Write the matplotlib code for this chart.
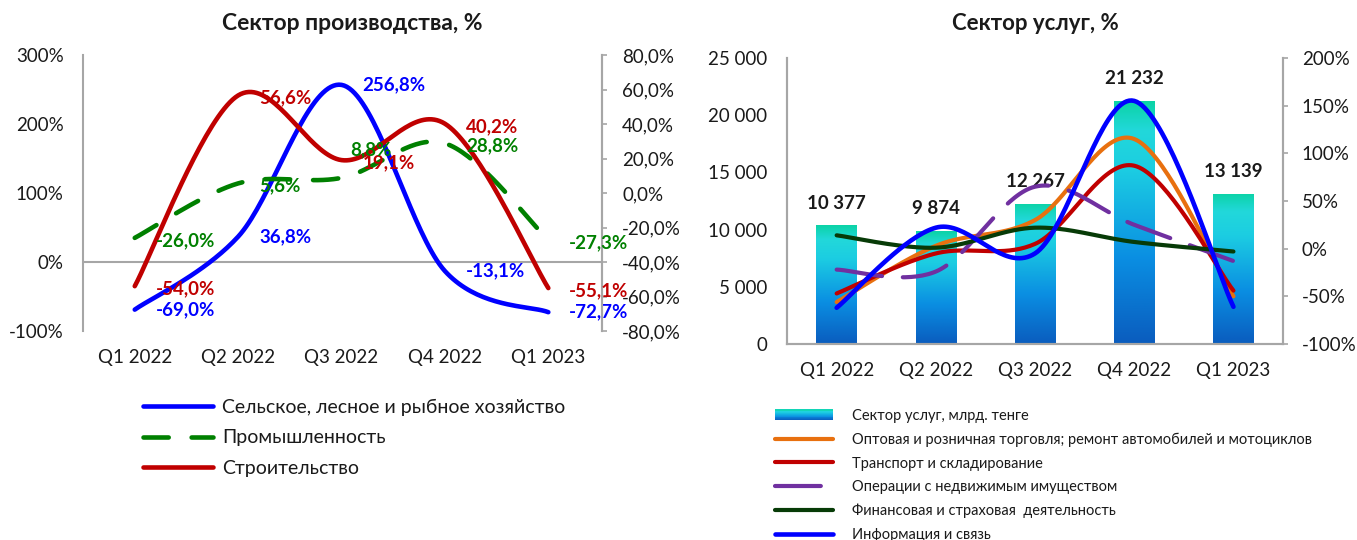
import numpy as np
import matplotlib
matplotlib.use("Agg")
import matplotlib.pyplot as plt
from matplotlib.colors import LinearSegmentedColormap
from matplotlib.legend_handler import HandlerBase
from matplotlib.patches import Rectangle, Patch
from matplotlib.ticker import FuncFormatter, MultipleLocator

plt.rcParams['font.family'] = ['Lato', 'DejaVu Sans']

quarters = ["Q1 2022", "Q2 2022", "Q3 2022", "Q4 2022", "Q1 2023"]

# left panel: production sector, %
agri = [-69.0, 36.8, 256.8, -13.1, -72.7]      # left axis
industry = [-26.0, 5.6, 8.8, 28.8, -27.3]      # right axis
constr = [-54.0, 56.6, 19.1, 40.2, -55.1]      # right axis

# right panel: services sector
services = [10377, 9874, 12267, 21232, 13139]  # bars, bn tenge
trade = [-56, 3, 30, 115, -50]
transport = [-47, -5, 5, 87, -44]
realty = [-22, -24, 65, 25, -13]
finance = [14, 1, 22, 7, -3]
info = [-62, 22, -5, 155, -61]

GRAY = "#a6a6a6"
TXT = "#1a1a1a"
BLUE, GREEN, RED = "#0000ff", "#008000", "#c00000"
bar_cmap = LinearSegmentedColormap.from_list(
    "bar", [(0, "#0a5cbe"), (0.35, "#0a8ee2"), (0.72, "#1ccde2"),
            (0.88, "#22d8da"), (1.0, "#0bd3a6")])


def smooth(y, n=40):
    """Excel-like smoothed line (cubic bezier, catmull-rom control points)."""
    y = np.asarray(y, float)
    x = np.arange(len(y), dtype=float)
    px = np.r_[x[0], x, x[-1]]
    py = np.r_[y[0], y, y[-1]]
    t = np.linspace(0, 1, n)
    xs, ys = [], []
    for i in range(1, len(px) - 2):
        p0 = np.array([px[i - 1], py[i - 1]]); p1 = np.array([px[i], py[i]])
        p2 = np.array([px[i + 1], py[i + 1]]); p3 = np.array([px[i + 2], py[i + 2]])
        c1 = p1 + (p2 - p0) / 6
        c2 = p2 - (p3 - p1) / 6
        pts = (np.outer((1 - t) ** 3, p1) + np.outer(3 * (1 - t) ** 2 * t, c1)
               + np.outer(3 * (1 - t) * t ** 2, c2) + np.outer(t ** 3, p2))
        xs.extend(pts[:, 0]); ys.extend(pts[:, 1])
    return xs, ys


def pct1(v):
    return f"{v:.1f}%".replace(".", ",")


class GradientHandler(HandlerBase):
    def create_artists(self, legend, orig, xd, yd, w, h, fontsize, trans):
        n = 12
        return [Rectangle((xd, yd + h * k / n), w, h / n + 0.3,
                          facecolor=bar_cmap((k + 0.5) / n), edgecolor="none",
                          transform=trans) for k in range(n)]


fig = plt.figure(figsize=(13.57, 5.4), dpi=100)

# ---------------- left panel ----------------
axL = fig.add_axes([0.0612, 0.387, 0.3825, 0.511])
axL2 = axL.twinx()
x = np.arange(len(quarters))
axL.set_xlim(-0.5, 4.52)
axL.set_ylim(-100, 300)
axL2.set_ylim(-80, 80)
axL.yaxis.set_major_locator(MultipleLocator(100))
axL2.yaxis.set_major_locator(MultipleLocator(20))
axL.yaxis.set_major_formatter(FuncFormatter(lambda v, p: f"{v:.0f}%"))
axL2.yaxis.set_major_formatter(FuncFormatter(lambda v, p: pct1(v)))
for a in (axL, axL2):
    for s in ("top", "bottom"):
        a.spines[s].set_visible(False)
    a.spines["left"].set_color(GRAY); a.spines["right"].set_color(GRAY)
    a.spines["left"].set_linewidth(1.5); a.spines["right"].set_linewidth(1.5)
axL2.spines["left"].set_visible(False)
axL.axhline(0, color=GRAY, lw=1.5, zorder=1)
axL.set_xticks(x); axL.set_xticklabels(quarters)
axL.tick_params(axis="x", length=0, pad=13, labelsize=13.5, labelcolor=TXT)
axL.tick_params(axis="y", length=0, pad=14, labelsize=13.5, labelcolor=TXT)
axL2.tick_params(axis="y", length=3.5, width=1.2, color=GRAY, pad=11,
                 labelsize=13.5, labelcolor=TXT)

ln_a, = axL.plot(*smooth(agri), color=BLUE, lw=3.3, solid_capstyle="round", zorder=3)
ln_i, = axL2.plot(*smooth(industry), color=GREEN, lw=3.3, dashes=(5.5, 5),
                  dash_capstyle="round", zorder=2)
ln_c, = axL2.plot(*smooth(constr), color=RED, lw=3.3, solid_capstyle="round", zorder=2)

lab_kw = dict(textcoords="offset points", ha="left", va="center",
              fontsize=13.5, fontweight="bold", annotation_clip=False)
for i, v in enumerate(agri):
    axL.annotate(pct1(v), (i, v), xytext=(15, 0), color=BLUE, **lab_kw)
for i, v in enumerate(constr):
    axL2.annotate(pct1(v), (i, v), xytext=(15, -2), color=RED, **lab_kw)
for i, v in enumerate(industry):
    off = (6, 20) if i == 2 else (15, -2)
    axL2.annotate(pct1(v), (i, v), xytext=off, color=GREEN, **lab_kw)

fig.text(352 / 1357, 1 - 23 / 540, "Сектор производства, %", ha="center", va="center",
         fontsize=16.5, fontweight="bold", color=TXT)

fig.legend([ln_a, ln_i, ln_c],
           ["Сельское, лесное и рыбное хозяйство", "Промышленность", "Строительство"],
           loc="upper left", bbox_to_anchor=(143 / 1357, 1 - 399 / 540),
           frameon=False, fontsize=14, handlelength=3.6, handletextpad=0.45,
           labelspacing=0.68, borderpad=0, borderaxespad=0, labelcolor=TXT)

# ---------------- right panel ----------------
axR = fig.add_axes([0.58, 0.363, 0.3655, 0.5296])
axR2 = axR.twinx()
axR.set_xlim(-0.5, 4.5)
axR.set_ylim(0, 25000)
axR2.set_ylim(-100, 200)
axR.yaxis.set_major_locator(MultipleLocator(5000))
axR2.yaxis.set_major_locator(MultipleLocator(50))
axR.yaxis.set_major_formatter(FuncFormatter(lambda v, p: f"{int(v):,}".replace(",", " ")))
axR2.yaxis.set_major_formatter(FuncFormatter(lambda v, p: f"{v:.0f}%"))
for a in (axR, axR2):
    a.spines["top"].set_visible(False)
    for s in ("left", "right", "bottom"):
        a.spines[s].set_color(GRAY); a.spines[s].set_linewidth(1.5)
axR.set_xticks(x); axR.set_xticklabels(quarters)
axR.tick_params(axis="x", length=0, pad=13, labelsize=13.5, labelcolor=TXT)
axR.tick_params(axis="y", length=0, pad=14, labelsize=13.5, labelcolor=TXT)
axR2.tick_params(axis="y", length=3.5, width=1.2, color=GRAY, pad=10,
                 labelsize=13.5, labelcolor=TXT)

bars = axR.bar(x, services, width=0.41, color="none", edgecolor="none", zorder=1)
grad = np.linspace(0, 1, 256).reshape(-1, 1)
for b in bars:
    x0, w, h = b.get_x(), b.get_width(), b.get_height()
    im = axR.imshow(grad, cmap=bar_cmap, origin="lower", aspect="auto",
                    extent=(x0, x0 + w, 0, h), zorder=1)
    im.set_clip_path(b)
axR.set_xlim(-0.5, 4.5)
axR.set_ylim(0, 25000)
for i, v in enumerate(services):
    axR.annotate(f"{v:,}".replace(",", " "), (i, v), xytext=(0, 16),
                 textcoords="offset points", ha="center", va="center",
                 fontsize=13.5, fontweight="bold", color=TXT)

lw = 3.0
r_trade, = axR2.plot(*smooth(trade), color="#e8700f", lw=lw, solid_capstyle="round")
r_trans, = axR2.plot(*smooth(transport), color=RED, lw=lw, solid_capstyle="round")
r_real, = axR2.plot(*smooth(realty), color="#7030a0", lw=lw, dashes=(11, 5),
                    dash_capstyle="round")
r_fin, = axR2.plot(*smooth(finance), color="#073b07", lw=lw, solid_capstyle="round")
r_info, = axR2.plot(*smooth(info), color=BLUE, lw=lw + 0.3, solid_capstyle="round")

fig.text(1035 / 1357, 1 - 23 / 540, "Сектор услуг, %", ha="center", va="center",
         fontsize=16, fontweight="bold", color=TXT)

bar_handle = Patch(facecolor="#1ccde2")
fig.legend([bar_handle, r_trade, r_trans, r_real, r_fin, r_info],
           ["Сектор услуг, млрд. тенге",
            "Оптовая и розничная торговля; ремонт автомобилей и мотоциклов",
            "Транспорт и складирование",
            "Операции с недвижимым имуществом",
            "Финансовая и страховая  деятельность",
            "Информация и связь"],
           handler_map={Patch: GradientHandler()},
           loc="upper left", bbox_to_anchor=(775 / 1357, 1 - 409 / 540),
           frameon=False, fontsize=10.5, handlelength=4.0, handletextpad=1.3,
           labelspacing=0.66, borderpad=0, borderaxespad=0, labelcolor=TXT)

fig.savefig("out.png", dpi=100)
